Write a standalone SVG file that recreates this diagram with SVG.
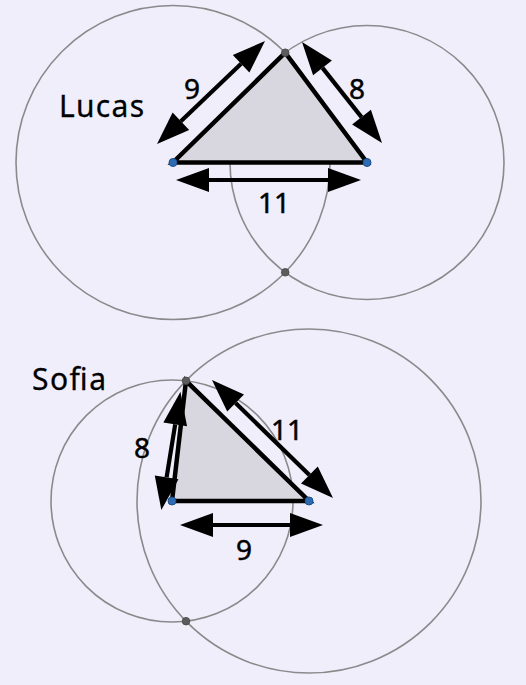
<svg xmlns="http://www.w3.org/2000/svg" width="526" height="685" viewBox="0 0 526 685">
  <defs>
    <marker id="head" markerUnits="userSpaceOnUse" markerWidth="34" markerHeight="26" viewBox="0 -13 34 26" refX="0" refY="0" orient="auto-start-reverse" overflow="visible">
      <path d="M0,-12 L33,0 L0,12 Z" fill="#000"/>
    </marker>
  </defs>
  <style>
    .bg { fill: #f0eefa; }
    .circ { fill: none; stroke: #8a8a8c; stroke-width: 1.6; }
    .tri { fill: #d8d6df; stroke: #000; stroke-width: 4.5; stroke-linejoin: miter; }
    .arr { stroke: #000; stroke-width: 4.2; fill: none; marker-start: url(#head); marker-end: url(#head); }
    .pt { fill: #2d6bb3; stroke: #1d4f8a; stroke-width: 1; }
    .ix { fill: #5c5c5c; stroke: #444; stroke-width: 0.8; }
    .lbl { font-family: "Noto Sans", "DejaVu Sans", sans-serif; font-size: 28px; fill: #000; stroke: #000; stroke-width: 0.5; text-anchor: middle; }
    .name { font-family: "Noto Sans", "DejaVu Sans", sans-serif; font-size: 30px; fill: #000; stroke: #000; stroke-width: 0.3; }
  </style>
  <rect class="bg" x="0" y="0" width="526" height="685"/>

  <g id="lucas">
    <g id="lucas-circles">
      <circle class="circ" cx="173" cy="162.5" r="157"/>
      <circle class="circ" cx="367" cy="162.5" r="137"/>
    </g>
    <polygon id="lucas-triangle" class="tri" points="173,162.5 367,162.5 285.2,52.7"/>
    <g id="lucas-arrows">
      <line class="arr" x1="180.9" y1="121.2" x2="241.1" y2="63.8"/>
      <line class="arr" x1="322.5" y1="67.9" x2="361.5" y2="117.1"/>
      <line class="arr" x1="209" y1="180" x2="328" y2="180"/>
    </g>
    <g id="lucas-points">
      <circle class="pt" cx="173" cy="162.5" r="4"/>
      <circle class="pt" cx="367" cy="162.5" r="4"/>
      <circle class="ix" cx="285.2" cy="52.7" r="3.8"/>
      <circle class="ix" cx="285.2" cy="272.3" r="3.8"/>
    </g>
    <g id="lucas-labels">
      <text class="name" x="59" y="117" textLength="85" lengthAdjust="spacing">Lucas</text>
      <text class="lbl" x="192" y="99">9</text>
      <text class="lbl" x="357" y="99">8</text>
      <text class="lbl" x="274" y="213">11</text>
    </g>
  </g>

  <g id="sofia">
    <g id="sofia-circles">
      <circle class="circ" cx="172" cy="501" r="121"/>
      <circle class="circ" cx="309" cy="501" r="172"/>
    </g>
    <polygon id="sofia-triangle" class="tri" points="172,501 309,501 186,380.8"/>
    <g id="sofia-arrows">
      <line class="arr" x1="175.2" y1="424.3" x2="166.6" y2="477.4"/>
      <line class="arr" x1="235.6" y1="403" x2="309.4" y2="475"/>
      <line class="arr" x1="213" y1="525" x2="290" y2="525"/>
    </g>
    <g id="sofia-points">
      <circle class="pt" cx="172" cy="501" r="4"/>
      <circle class="pt" cx="309" cy="501" r="4"/>
      <circle class="ix" cx="186" cy="380.8" r="3.8"/>
      <circle class="ix" cx="186" cy="621.2" r="3.8"/>
    </g>
    <g id="sofia-labels">
      <text class="name" x="32" y="390" textLength="74" lengthAdjust="spacing">Sofia</text>
      <text class="lbl" x="142" y="458">8</text>
      <text class="lbl" x="287" y="440">11</text>
      <text class="lbl" x="244" y="560">9</text>
    </g>
  </g>
</svg>
